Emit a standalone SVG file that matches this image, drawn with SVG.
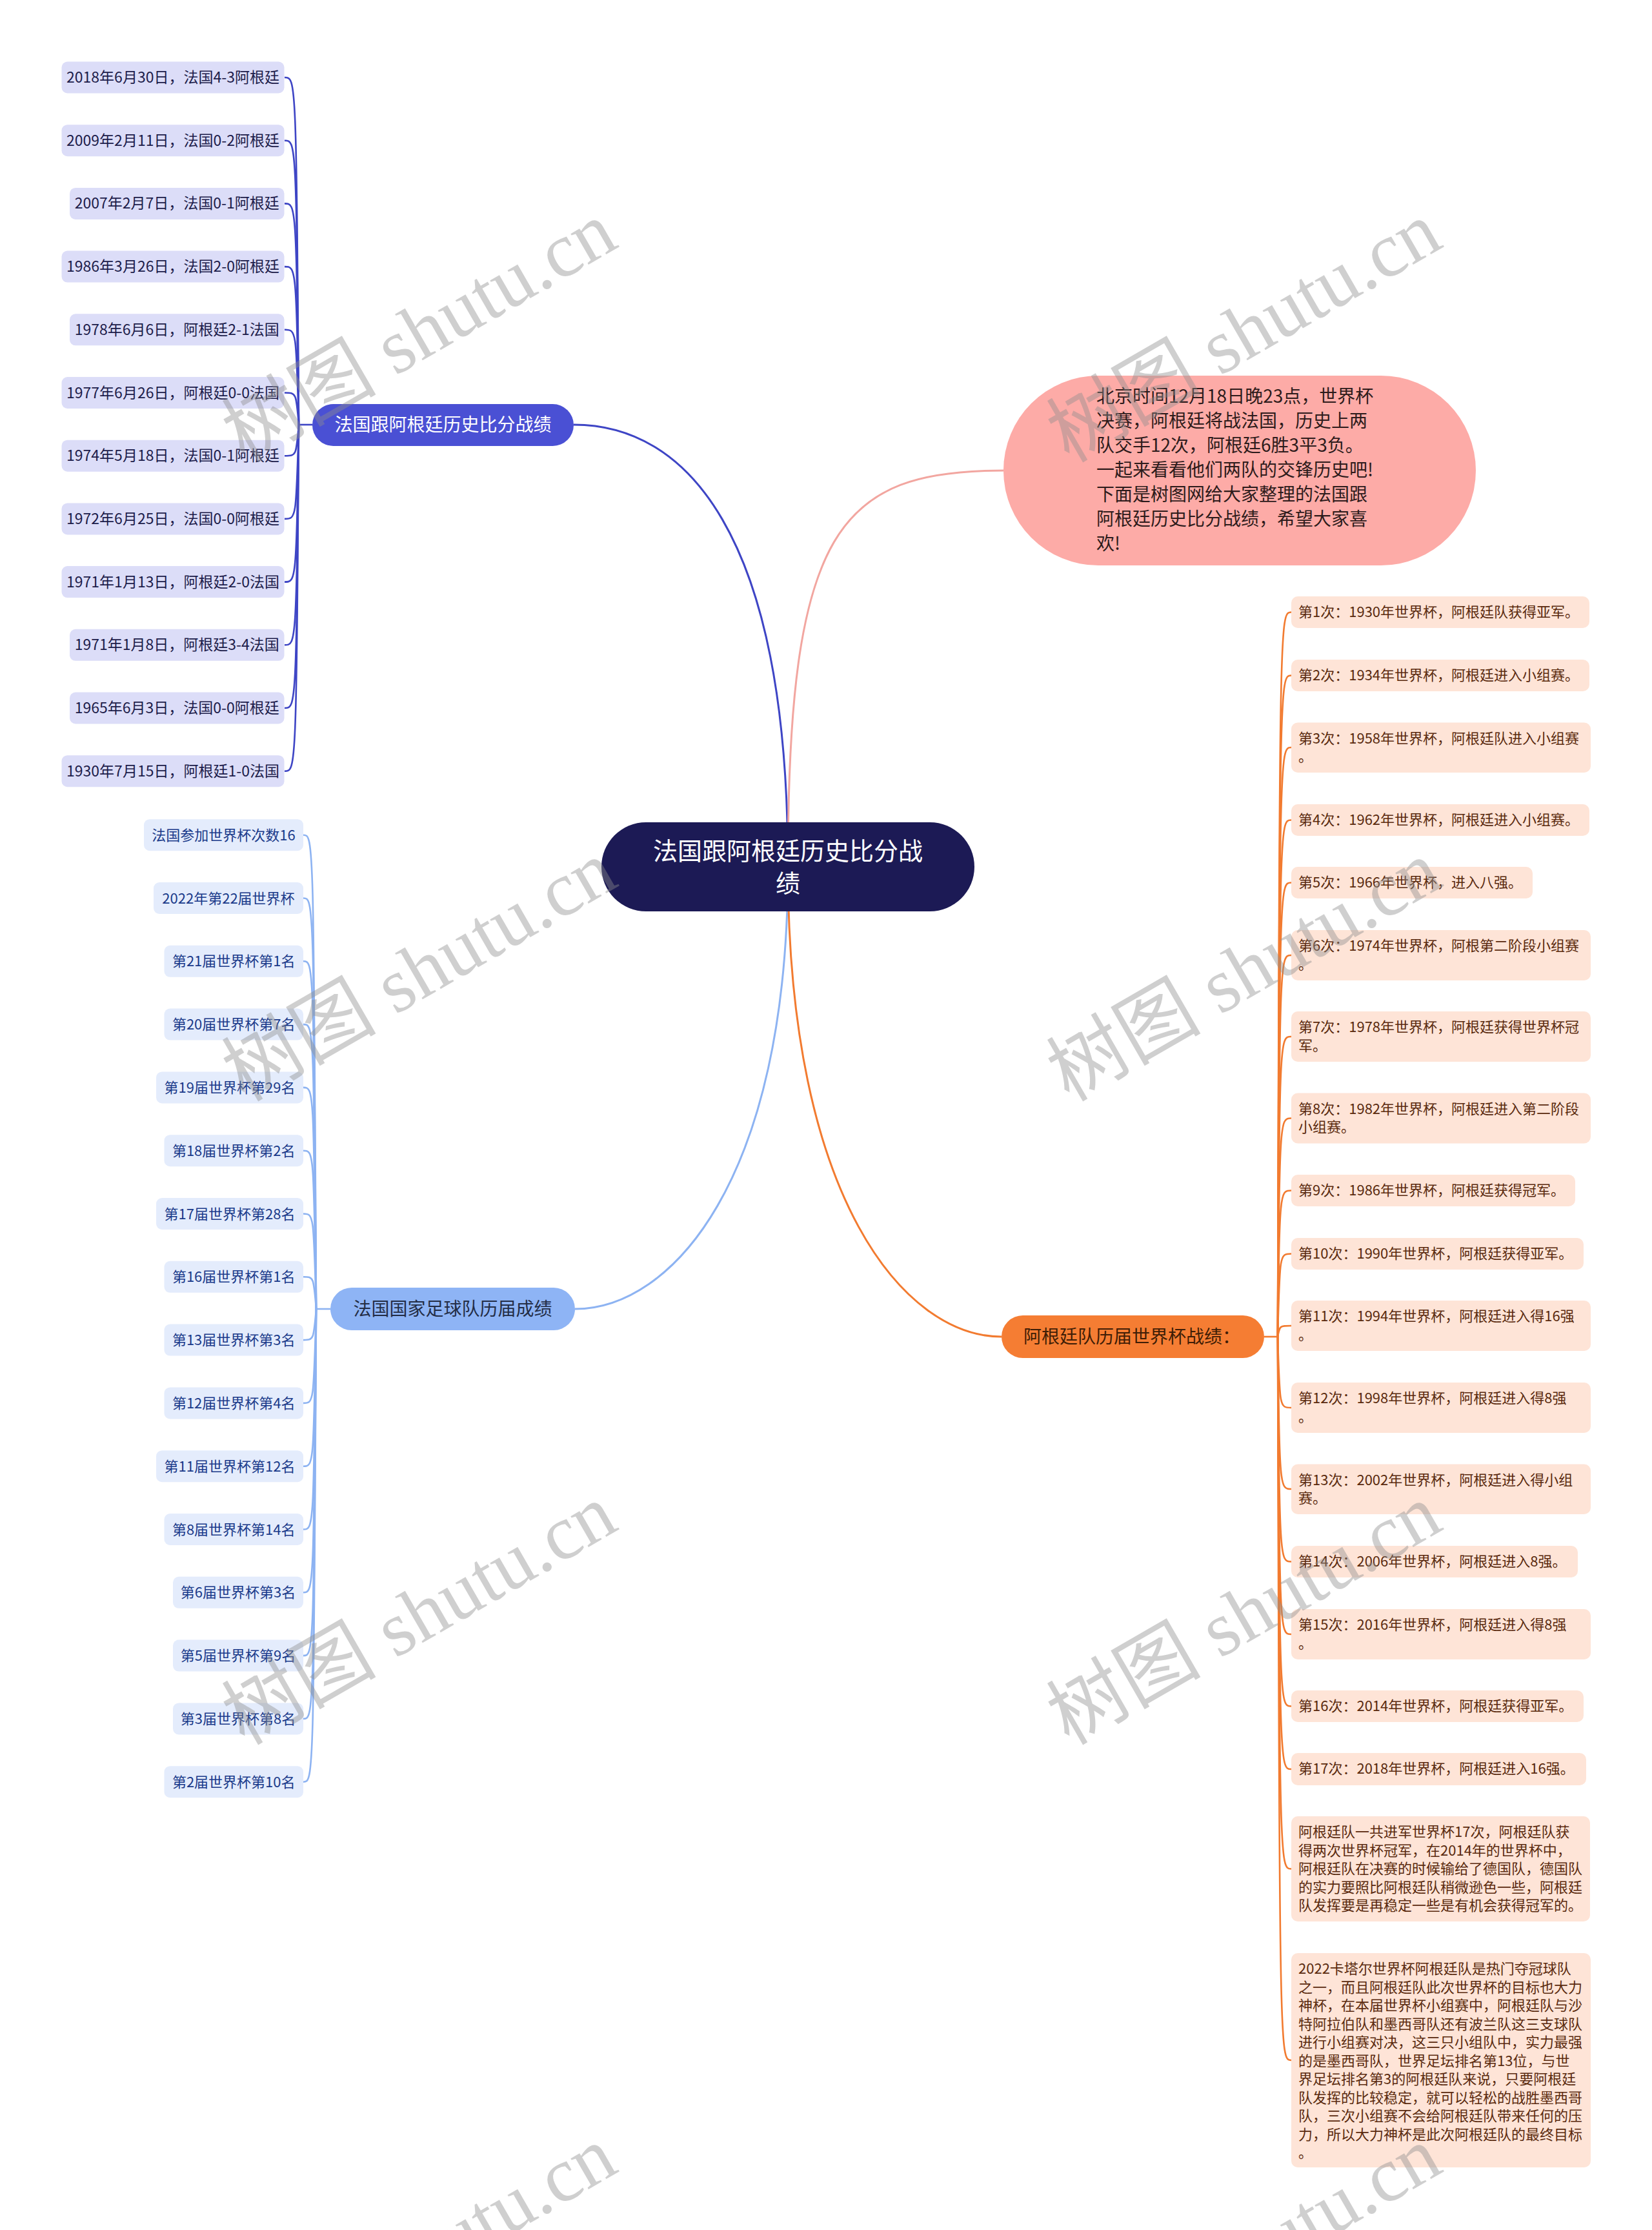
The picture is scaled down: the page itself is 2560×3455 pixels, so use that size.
<svg xmlns="http://www.w3.org/2000/svg" width="2560" height="3455" viewBox="0 0 2560 3455">
<style>
text{font-family:"Noto Sans CJK SC","Liberation Sans",sans-serif}
.c1{fill:none;stroke:#3E45C5;stroke-width:2.6}
.c2{fill:none;stroke:#8DB3F2;stroke-width:2.6}
.c3{fill:none;stroke:#F27B30;stroke-width:2.6}
.main{fill:none;stroke-width:3}
.l1 rect{fill:#DCDDF8}
.l1 text{fill:#1C1C4A;font-size:23px;text-anchor:middle}
.l2 rect{fill:#E4ECFC}
.l2 text{fill:#1A3A8A;font-size:22px;text-anchor:middle}
.l3 rect{fill:#FEE4D7}
.l3 text{fill:#5A2A0E;font-size:22px}
.wm{font-family:"Liberation Serif","Noto Sans CJK SC",serif;font-size:120px;fill:#8c8c8c;fill-opacity:0.42;text-anchor:middle}
</style>

<g id="connectors">
  <path class="main" stroke="#3E45C5" d="M1221,1343 C1221,820 1060,658 889,658"/>
  <path class="main" stroke="#F2A6A0" d="M1221,1343 C1221,820 1300,729 1555,729"/>
  <path class="main" stroke="#8DB3F2" d="M1221,1343 C1221,1830 1040,2028 891,2028"/>
  <path class="main" stroke="#F27B30" d="M1221,1343 C1221,1860 1403,2071 1552,2071"/>

  <path class="c1" d="M463,658 H484"/>
  <path class="c1" d="M463,658 C459,120 459,120 441,120"/>
  <path class="c1" d="M463,658 C459,217.7 459,217.7 441,217.7"/>
  <path class="c1" d="M463,658 C459,315.4 459,315.4 441,315.4"/>
  <path class="c1" d="M463,658 C459,413.1 459,413.1 441,413.1"/>
  <path class="c1" d="M463,658 C459,510.8 459,510.8 441,510.8"/>
  <path class="c1" d="M463,658 C459,608.5 459,608.5 441,608.5"/>
  <path class="c1" d="M463,658 C459,706.2 459,706.2 441,706.2"/>
  <path class="c1" d="M463,658 C459,803.9 459,803.9 441,803.9"/>
  <path class="c1" d="M463,658 C459,901.6 459,901.6 441,901.6"/>
  <path class="c1" d="M463,658 C459,999.3 459,999.3 441,999.3"/>
  <path class="c1" d="M463,658 C459,1097 459,1097 441,1097"/>
  <path class="c1" d="M463,658 C459,1194.7 459,1194.7 441,1194.7"/>

  <path class="c2" d="M490,2028 H512"/>
  <path class="c2" d="M490,2028 C486,1293.7 486,1293.7 470,1293.7"/>
  <path class="c2" d="M490,2028 C486,1391.5 486,1391.5 470,1391.5"/>
  <path class="c2" d="M490,2028 C486,1489.3 486,1489.3 470,1489.3"/>
  <path class="c2" d="M490,2028 C486,1587.1 486,1587.1 470,1587.1"/>
  <path class="c2" d="M490,2028 C486,1684.9 486,1684.9 470,1684.9"/>
  <path class="c2" d="M490,2028 C486,1782.7 486,1782.7 470,1782.7"/>
  <path class="c2" d="M490,2028 C486,1880.5 486,1880.5 470,1880.5"/>
  <path class="c2" d="M490,2028 C486,1978.3 486,1978.3 470,1978.3"/>
  <path class="c2" d="M490,2028 C486,2076.1 486,2076.1 470,2076.1"/>
  <path class="c2" d="M490,2028 C486,2173.9 486,2173.9 470,2173.9"/>
  <path class="c2" d="M490,2028 C486,2271.7 486,2271.7 470,2271.7"/>
  <path class="c2" d="M490,2028 C486,2369.5 486,2369.5 470,2369.5"/>
  <path class="c2" d="M490,2028 C486,2467.3 486,2467.3 470,2467.3"/>
  <path class="c2" d="M490,2028 C486,2565.1 486,2565.1 470,2565.1"/>
  <path class="c2" d="M490,2028 C486,2662.9 486,2662.9 470,2662.9"/>
  <path class="c2" d="M490,2028 C486,2760.7 486,2760.7 470,2760.7"/>

  <path class="c3" d="M1959,2071 H1980"/>
  <path class="c3" d="M1980,2071 C1983,948.5 1983,948.5 2001,948.5"/>
  <path class="c3" d="M1980,2071 C1983,1046.5 1983,1046.5 2001,1046.5"/>
  <path class="c3" d="M1980,2071 C1983,1158 1983,1158 2001,1158"/>
  <path class="c3" d="M1980,2071 C1983,1270.5 1983,1270.5 2001,1270.5"/>
  <path class="c3" d="M1980,2071 C1983,1367.5 1983,1367.5 2001,1367.5"/>
  <path class="c3" d="M1980,2071 C1983,1480 1983,1480 2001,1480"/>
  <path class="c3" d="M1980,2071 C1983,1606 1983,1606 2001,1606"/>
  <path class="c3" d="M1980,2071 C1983,1732.5 1983,1732.5 2001,1732.5"/>
  <path class="c3" d="M1980,2071 C1983,1844.5 1983,1844.5 2001,1844.5"/>
  <path class="c3" d="M1980,2071 C1983,1942.5 1983,1942.5 2001,1942.5"/>
  <path class="c3" d="M1980,2071 C1983,2054 1983,2054 2001,2054"/>
  <path class="c3" d="M1980,2071 C1983,2181 1983,2181 2001,2181"/>
  <path class="c3" d="M1980,2071 C1983,2307 1983,2307 2001,2307"/>
  <path class="c3" d="M1980,2071 C1983,2419.5 1983,2419.5 2001,2419.5"/>
  <path class="c3" d="M1980,2071 C1983,2532 1983,2532 2001,2532"/>
  <path class="c3" d="M1980,2071 C1983,2643.5 1983,2643.5 2001,2643.5"/>
  <path class="c3" d="M1980,2071 C1983,2741 1983,2741 2001,2741"/>
  <path class="c3" d="M1980,2071 C1983,2895.5 1983,2895.5 2001,2895.5"/>
  <path class="c3" d="M1980,2071 C1983,3192 1983,3192 2001,3192"/>
</g>

<g id="center">
  <rect x="932" y="1274" width="578" height="138" rx="69" fill="#1C1A55"/>
  <text x="1221" y="1332" font-size="38" fill="#FFFFFF" text-anchor="middle">法国跟阿根廷历史比分战</text>
  <text x="1221" y="1382" font-size="38" fill="#FFFFFF" text-anchor="middle">绩</text>
</g>

<g id="intro">
  <rect x="1555" y="582" width="732" height="294" rx="147" fill="#FDABA7"/>
  <text font-size="28" fill="#2D1B1B">
    <tspan x="1699" y="624">北京时间12月18日晚23点，世界杯</tspan>
    <tspan x="1699" y="662">决赛，阿根廷将战法国，历史上两</tspan>
    <tspan x="1699" y="700">队交手12次，阿根廷6胜3平3负。</tspan>
    <tspan x="1699" y="738">一起来看看他们两队的交锋历史吧!</tspan>
    <tspan x="1699" y="776">下面是树图网给大家整理的法国跟</tspan>
    <tspan x="1699" y="814">阿根廷历史比分战绩，希望大家喜</tspan>
    <tspan x="1699" y="852">欢!</tspan>
  </text>
</g>

<g id="branch-history">
  <rect x="484" y="626" width="405" height="65" rx="32.5" fill="#4A50D4"/>
  <text x="686.5" y="668" font-size="28" fill="#FFFFFF" text-anchor="middle">法国跟阿根廷历史比分战绩</text>
</g>

<g id="branch-france">
  <rect x="512" y="1995" width="379" height="66" rx="33" fill="#8EB4F5"/>
  <text x="701.5" y="2038" font-size="28" fill="#232D45" text-anchor="middle">法国国家足球队历届成绩</text>
</g>

<g id="branch-argentina">
  <rect x="1552" y="2038" width="407" height="66" rx="33" fill="#F57D33"/>
  <text x="1586" y="2081" font-size="28" fill="#3F1D06">阿根廷队历届世界杯战绩：</text>
</g>

<g id="history-leaves" class="l1">
  <g id="h1"><rect x="95.5" y="95.5" width="345" height="49" rx="9"/><text x="268" y="128">2018年6月30日，法国4-3阿根廷</text></g>
  <g id="h2"><rect x="95.5" y="193.2" width="345" height="49" rx="9"/><text x="268" y="225.7">2009年2月11日，法国0-2阿根廷</text></g>
  <g id="h3"><rect x="108" y="290.9" width="332.5" height="49" rx="9"/><text x="274.2" y="323.4">2007年2月7日，法国0-1阿根廷</text></g>
  <g id="h4"><rect x="95.5" y="388.6" width="345" height="49" rx="9"/><text x="268" y="421.1">1986年3月26日，法国2-0阿根廷</text></g>
  <g id="h5"><rect x="108" y="486.3" width="332.5" height="49" rx="9"/><text x="274.2" y="518.8">1978年6月6日，阿根廷2-1法国</text></g>
  <g id="h6"><rect x="95.5" y="584" width="345" height="49" rx="9"/><text x="268" y="616.5">1977年6月26日，阿根廷0-0法国</text></g>
  <g id="h7"><rect x="95.5" y="681.7" width="345" height="49" rx="9"/><text x="268" y="714.2">1974年5月18日，法国0-1阿根廷</text></g>
  <g id="h8"><rect x="95.5" y="779.4" width="345" height="49" rx="9"/><text x="268" y="811.9">1972年6月25日，法国0-0阿根廷</text></g>
  <g id="h9"><rect x="95.5" y="877.1" width="345" height="49" rx="9"/><text x="268" y="909.6">1971年1月13日，阿根廷2-0法国</text></g>
  <g id="h10"><rect x="108" y="974.8" width="332.5" height="49" rx="9"/><text x="274.2" y="1007.3">1971年1月8日，阿根廷3-4法国</text></g>
  <g id="h11"><rect x="108" y="1072.5" width="332.5" height="49" rx="9"/><text x="274.2" y="1105">1965年6月3日，法国0-0阿根廷</text></g>
  <g id="h12"><rect x="95.5" y="1170.2" width="345" height="49" rx="9"/><text x="268" y="1202.7">1930年7月15日，阿根廷1-0法国</text></g>
</g>

<g id="france-leaves" class="l2">
  <g id="f1"><rect x="223" y="1269.2" width="247" height="49" rx="9"/><text x="346.5" y="1301.7">法国参加世界杯次数16</text></g>
  <g id="f2"><rect x="238" y="1367" width="232" height="49" rx="9"/><text x="354" y="1399.5">2022年第22届世界杯</text></g>
  <g id="f3"><rect x="254.5" y="1464.8" width="215.5" height="49" rx="9"/><text x="362.2" y="1497.3">第21届世界杯第1名</text></g>
  <g id="f4"><rect x="254.5" y="1562.6" width="215.5" height="49" rx="9"/><text x="362.2" y="1595.1">第20届世界杯第7名</text></g>
  <g id="f5"><rect x="242" y="1660.4" width="228" height="49" rx="9"/><text x="356" y="1692.9">第19届世界杯第29名</text></g>
  <g id="f6"><rect x="254.5" y="1758.2" width="215.5" height="49" rx="9"/><text x="362.2" y="1790.7">第18届世界杯第2名</text></g>
  <g id="f7"><rect x="242" y="1856" width="228" height="49" rx="9"/><text x="356" y="1888.5">第17届世界杯第28名</text></g>
  <g id="f8"><rect x="254.5" y="1953.8" width="215.5" height="49" rx="9"/><text x="362.2" y="1986.3">第16届世界杯第1名</text></g>
  <g id="f9"><rect x="254.5" y="2051.6" width="215.5" height="49" rx="9"/><text x="362.2" y="2084.1">第13届世界杯第3名</text></g>
  <g id="f10"><rect x="254.5" y="2149.4" width="215.5" height="49" rx="9"/><text x="362.2" y="2181.9">第12届世界杯第4名</text></g>
  <g id="f11"><rect x="242" y="2247.2" width="228" height="49" rx="9"/><text x="356" y="2279.7">第11届世界杯第12名</text></g>
  <g id="f12"><rect x="254.5" y="2345" width="215.5" height="49" rx="9"/><text x="362.2" y="2377.5">第8届世界杯第14名</text></g>
  <g id="f13"><rect x="268" y="2442.8" width="202" height="49" rx="9"/><text x="369" y="2475.3">第6届世界杯第3名</text></g>
  <g id="f14"><rect x="268" y="2540.6" width="202" height="49" rx="9"/><text x="369" y="2573.1">第5届世界杯第9名</text></g>
  <g id="f15"><rect x="268" y="2638.4" width="202" height="49" rx="9"/><text x="369" y="2670.9">第3届世界杯第8名</text></g>
  <g id="f16"><rect x="254.5" y="2736.2" width="215.5" height="49" rx="9"/><text x="362.2" y="2768.7">第2届世界杯第10名</text></g>
</g>

<g id="argentina-leaves" class="l3">
  <g id="a1"><rect x="2001" y="924" width="462" height="49" rx="10"/><text x="2012" y="956">第1次：1930年世界杯，阿根廷队获得亚军。</text></g>
  <g id="a2"><rect x="2001" y="1022" width="462" height="49" rx="10"/><text x="2012" y="1054">第2次：1934年世界杯，阿根廷进入小组赛。</text></g>
  <g id="a3"><rect x="2001" y="1119.5" width="464" height="77.5" rx="10"/><text><tspan x="2012" y="1151.5">第3次：1958年世界杯，阿根廷队进入小组赛</tspan><tspan x="2012" y="1180">。</tspan></text></g>
  <g id="a4"><rect x="2001" y="1246" width="462" height="49" rx="10"/><text x="2012" y="1278">第4次：1962年世界杯，阿根廷进入小组赛。</text></g>
  <g id="a5"><rect x="2001" y="1343" width="374" height="49" rx="10"/><text x="2012" y="1375">第5次：1966年世界杯，进入八强。</text></g>
  <g id="a6"><rect x="2001" y="1441" width="464" height="78" rx="10"/><text><tspan x="2012" y="1473">第6次：1974年世界杯，阿根第二阶段小组赛</tspan><tspan x="2012" y="1501.5">。</tspan></text></g>
  <g id="a7"><rect x="2001" y="1567" width="464" height="78" rx="10"/><text><tspan x="2012" y="1599">第7次：1978年世界杯，阿根廷获得世界杯冠</tspan><tspan x="2012" y="1627.5">军。</tspan></text></g>
  <g id="a8"><rect x="2001" y="1693.5" width="464" height="78" rx="10"/><text><tspan x="2012" y="1725.5">第8次：1982年世界杯，阿根廷进入第二阶段</tspan><tspan x="2012" y="1754">小组赛。</tspan></text></g>
  <g id="a9"><rect x="2001" y="1820" width="440" height="49" rx="10"/><text x="2012" y="1852">第9次：1986年世界杯，阿根廷获得冠军。</text></g>
  <g id="a10"><rect x="2001" y="1918" width="453" height="49" rx="10"/><text x="2012" y="1950">第10次：1990年世界杯，阿根廷获得亚军。</text></g>
  <g id="a11"><rect x="2001" y="2015" width="464" height="78" rx="10"/><text><tspan x="2012" y="2047">第11次：1994年世界杯，阿根廷进入得16强</tspan><tspan x="2012" y="2075.5">。</tspan></text></g>
  <g id="a12"><rect x="2001" y="2142" width="464" height="78" rx="10"/><text><tspan x="2012" y="2174">第12次：1998年世界杯，阿根廷进入得8强</tspan><tspan x="2012" y="2202.5">。</tspan></text></g>
  <g id="a13"><rect x="2001" y="2268.5" width="464" height="77.5" rx="10"/><text><tspan x="2012" y="2300.5">第13次：2002年世界杯，阿根廷进入得小组</tspan><tspan x="2012" y="2329">赛。</tspan></text></g>
  <g id="a14"><rect x="2001" y="2395" width="444" height="49" rx="10"/><text x="2012" y="2427">第14次：2006年世界杯，阿根廷进入8强。</text></g>
  <g id="a15"><rect x="2001" y="2493" width="464" height="78" rx="10"/><text><tspan x="2012" y="2525">第15次：2016年世界杯，阿根廷进入得8强</tspan><tspan x="2012" y="2553.5">。</tspan></text></g>
  <g id="a16"><rect x="2001" y="2619" width="453" height="49" rx="10"/><text x="2012" y="2651">第16次：2014年世界杯，阿根廷获得亚军。</text></g>
  <g id="a17"><rect x="2001" y="2716" width="457" height="50" rx="10"/><text x="2012" y="2748">第17次：2018年世界杯，阿根廷进入16强。</text></g>
  <g id="a18"><rect x="2001" y="2814" width="463" height="163" rx="10"/><text>
    <tspan x="2012" y="2846">阿根廷队一共进军世界杯17次，阿根廷队获</tspan>
    <tspan x="2012" y="2874.5">得两次世界杯冠军，在2014年的世界杯中，</tspan>
    <tspan x="2012" y="2903">阿根廷队在决赛的时候输给了德国队，德国队</tspan>
    <tspan x="2012" y="2931.5">的实力要照比阿根廷队稍微逊色一些，阿根廷</tspan>
    <tspan x="2012" y="2960">队发挥要是再稳定一些是有机会获得冠军的。</tspan></text></g>
  <g id="a19"><rect x="2001" y="3026" width="464" height="332" rx="10"/><text>
    <tspan x="2012" y="3058">2022卡塔尔世界杯阿根廷队是热门夺冠球队</tspan>
    <tspan x="2012" y="3086.5">之一，而且阿根廷队此次世界杯的目标也大力</tspan>
    <tspan x="2012" y="3115">神杯，在本届世界杯小组赛中，阿根廷队与沙</tspan>
    <tspan x="2012" y="3143.5">特阿拉伯队和墨西哥队还有波兰队这三支球队</tspan>
    <tspan x="2012" y="3172">进行小组赛对决，这三只小组队中，实力最强</tspan>
    <tspan x="2012" y="3200.5">的是墨西哥队，世界足坛排名第13位，与世</tspan>
    <tspan x="2012" y="3229">界足坛排名第3的阿根廷队来说，只要阿根廷</tspan>
    <tspan x="2012" y="3257.5">队发挥的比较稳定，就可以轻松的战胜墨西哥</tspan>
    <tspan x="2012" y="3286">队，三次小组赛不会给阿根廷队带来任何的压</tspan>
    <tspan x="2012" y="3314.5">力，所以大力神杯是此次阿根廷队的最终目标</tspan>
    <tspan x="2012" y="3343">。</tspan></text></g>
</g>

<g id="watermarks">
  <text class="wm" transform="translate(650,515) rotate(-30)" y="40">树图 shutu.cn</text>
  <text class="wm" transform="translate(1928,515) rotate(-30)" y="40">树图 shutu.cn</text>
  <text class="wm" transform="translate(650,1505) rotate(-30)" y="40">树图 shutu.cn</text>
  <text class="wm" transform="translate(1928,1505) rotate(-30)" y="40">树图 shutu.cn</text>
  <text class="wm" transform="translate(650,2502) rotate(-30)" y="40">树图 shutu.cn</text>
  <text class="wm" transform="translate(1928,2502) rotate(-30)" y="40">树图 shutu.cn</text>
  <text class="wm" transform="translate(650,3497) rotate(-30)" y="40">树图 shutu.cn</text>
  <text class="wm" transform="translate(1928,3497) rotate(-30)" y="40">树图 shutu.cn</text>
</g>
</svg>
